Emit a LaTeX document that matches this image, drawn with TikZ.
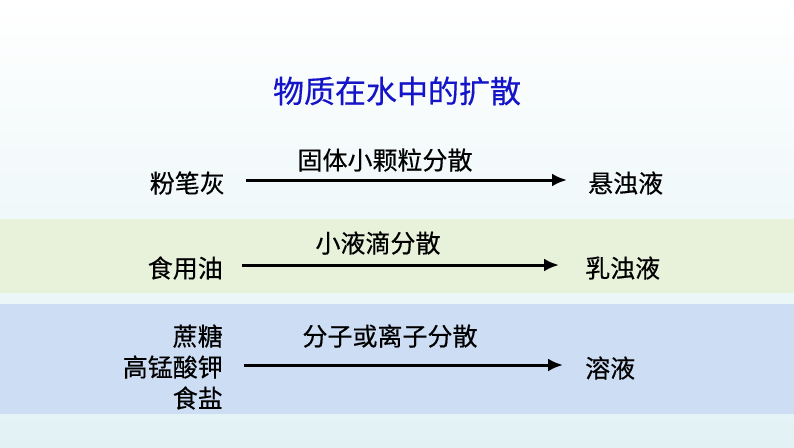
\documentclass[tikz,border=0pt]{standalone}
\usepackage{fontspec}
\newfontfamily\cjk[FakeBold=0.4]{Noto Sans CJK SC}
\usetikzlibrary{arrows.meta}
\definecolor{bgbot}{RGB}{226,242,244}
\definecolor{greenband}{RGB}{232,241,218}
\definecolor{blueband}{RGB}{205,221,243}
\definecolor{titleblue}{RGB}{20,20,200}
\tikzset{
  lbl/.style={inner sep=0pt, font=\cjk\fontsize{25}{31}\selectfont, text=black},
  ttl/.style={inner sep=0pt, font=\cjk\fontsize{31}{34}\selectfont, text=titleblue},
  arr/.style={line width=3pt, -{Latex[length=15pt,width=13pt]}},
}
\begin{document}
\begin{tikzpicture}[x=1pt,y=-1pt]
\useasboundingbox (0,0) rectangle (794,447);
\shade[top color=white, bottom color=bgbot, middle color=bgbot!55] (0,0) rectangle (794,447);
\fill[greenband] (0,219) rectangle (794,293);
\fill[blueband] (0,304) rectangle (794,414);

\node[ttl] (title) at (397,91) {物质在水中的扩散};

% row 1
\node[lbl, anchor=east] (l1) at (225,183) {粉笔灰};
\node[lbl, anchor=west] (r1) at (588,183) {悬浊液};
\node[lbl] (m1) at (385,160) {固体小颗粒分散};
\coordinate (s1) at (246,180);
\coordinate (e1) at (567,180);
\draw[arr] (s1) -- (e1);

% row 2
\node[lbl, anchor=east] (l2) at (223,268) {食用油};
\node[lbl, anchor=west] (r2) at (585,268) {乳浊液};
\node[lbl] (m2) at (378,243) {小液滴分散};
\coordinate (s2) at (242,265);
\coordinate (e2) at (559,265);
\draw[arr] (s2) -- (e2);

% row 3
\node[lbl, anchor=east, align=right] (l3) at (223,367) {蔗糖\\高锰酸钾\\食盐};
\node[lbl, anchor=west] (r3) at (585,368) {溶液};
\node[lbl] (m3) at (390,336) {分子或离子分散};
\coordinate (s3) at (244,365);
\coordinate (e3) at (563,365);
\draw[arr] (s3) -- (e3);
\end{tikzpicture}
\end{document}
